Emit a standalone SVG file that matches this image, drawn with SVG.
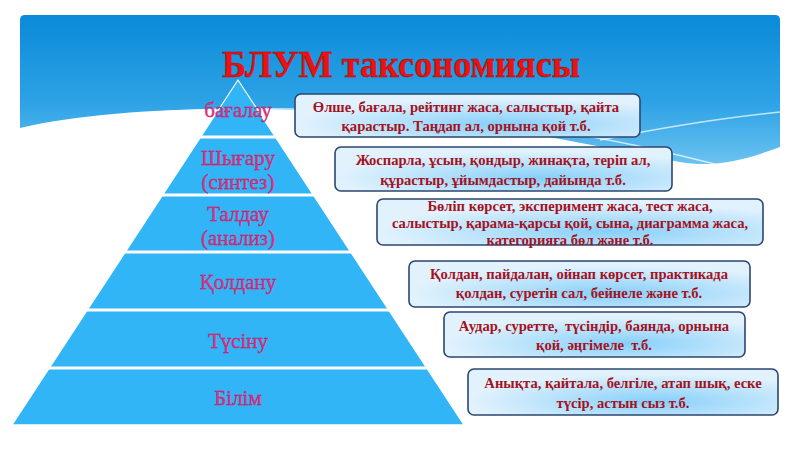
<svg xmlns="http://www.w3.org/2000/svg" width="800" height="450" viewBox="0 0 800 450">
<defs>
  <linearGradient id="bg" x1="0" y1="0" x2="0" y2="1">
    <stop offset="0" stop-color="#0a8ad8"/>
    <stop offset="0.6" stop-color="#2ea3e6"/>
    <stop offset="1" stop-color="#6cc2f0"/>
  </linearGradient>
  <radialGradient id="boxfill" cx="0.6" cy="0.7" r="0.6">
    <stop offset="0" stop-color="#86cff9"/>
    <stop offset="1" stop-color="#e2f2fd"/>
  </radialGradient>
  <style>
    .box { fill: url(#boxfill); stroke: #2b4670; stroke-width: 1.6; }
    .bt { font-family: "Liberation Serif", "Times New Roman", serif; font-weight: bold; font-size: 14.6px; fill: #a3121f; text-anchor: middle; }
    .pl { font-family: "Liberation Serif", "Times New Roman", serif; font-size: 21px; fill: #e8358c; stroke: #b8155e; stroke-width: 0.4; text-anchor: middle; }
    .sep { stroke: #ffffff; stroke-width: 3; }
    .streak { fill: none; stroke: #ffffff; stroke-opacity: 0.7; stroke-width: 1.5; }
  </style>
</defs>
<rect width="800" height="450" fill="#ffffff"/>
<g id="background">
  <path d="M20,20 Q20,15 25,15 H775 Q780,15 780,20 V147 C745,160 715,168 680,162 C600,148 480,118 330,111 C200,105 90,112 20,128 Z" fill="url(#bg)"/>
  <path class="streak" d="M600,140 C660,128 720,118 780,112"/>
  <path class="streak" d="M560,132 C620,140 680,155 730,168"/>
  <path class="streak" stroke-opacity="0.4" d="M40,125 C120,112 220,106 330,110"/>
</g>
<g id="title">
  <text x="401" y="77" font-family="'Liberation Serif', 'Times New Roman', serif" font-weight="bold" font-size="37" fill="#ee1111" stroke="#9a0a0a" stroke-width="0.5" text-anchor="middle" textLength="358" lengthAdjust="spacingAndGlyphs">БЛУМ таксономиясы</text>
</g>
<g id="pyramid">
  <polygon points="238,80 464,425 12,425" fill="#32b5f7" stroke="#ffffff" stroke-width="1.2"/>
  <line class="sep" x1="195" y1="137" x2="281" y2="137"/>
  <line class="sep" x1="157" y1="195" x2="319" y2="195"/>
  <line class="sep" x1="120" y1="252" x2="356" y2="252"/>
  <line class="sep" x1="82" y1="310" x2="394" y2="310"/>
  <line class="sep" x1="44" y1="368" x2="432" y2="368"/>
  <line class="sep" x1="8" y1="426" x2="468" y2="426"/>
</g>
<g id="level-bagalau"><text class="pl" x="238" y="117">бағалау</text></g>
<g id="level-shygaru"><text class="pl" x="238" y="165">Шығару</text><text class="pl" x="238" y="189">(синтез)</text></g>
<g id="level-taldau"><text class="pl" x="238" y="221">Талдау</text><text class="pl" x="238" y="245">(анализ)</text></g>
<g id="level-koldanu"><text class="pl" x="238" y="289">Қолдану</text></g>
<g id="level-tusinu"><text class="pl" x="238" y="348">Түсіну</text></g>
<g id="level-bilim"><text class="pl" x="238" y="405">Білім</text></g>
<g id="box-bagalau">
  <rect class="box" x="295" y="94" width="345" height="43" rx="6"/>
  <text class="bt" x="466" y="112">Өлше, бағала, рейтинг жаса, салыстыр, қайта</text>
  <text class="bt" x="466" y="131">қарастыр. Таңдап ал, орнына қой т.б.</text>
</g>
<g id="box-shygaru">
  <rect class="box" x="335" y="147" width="337" height="44" rx="6"/>
  <text class="bt" x="503" y="165">Жоспарла, ұсын, қондыр, жинақта, теріп ал,</text>
  <text class="bt" x="503" y="185">құрастыр, ұйымдастыр, дайында т.б.</text>
</g>
<g id="box-taldau">
  <rect class="box" x="377" y="199" width="386" height="46" rx="6"/>
  <text class="bt" x="570" y="211">Бөліп көрсет, эксперимент жаса, тест жаса,</text>
  <text class="bt" x="570" y="228">салыстыр, қарама-қарсы қой, сына, диаграмма жаса,</text>
  <text class="bt" x="570" y="245">категорияға бөл және т.б.</text>
</g>
<g id="box-koldanu">
  <rect class="box" x="409" y="261" width="341" height="46" rx="6"/>
  <text class="bt" x="579" y="279">Қолдан, пайдалан, ойнап көрсет, практикада</text>
  <text class="bt" x="579" y="298">қолдан, суретін сал, бейнеле және т.б.</text>
</g>
<g id="box-tusinu">
  <rect class="box" x="444" y="312" width="301" height="45" rx="6"/>
  <text class="bt" x="594" y="331" xml:space="preserve">Аудар, суретте,  түсіндір, баянда, орнына</text>
  <text class="bt" x="594" y="350" xml:space="preserve">қой, әңгімеле  т.б.</text>
</g>
<g id="box-bilim">
  <rect class="box" x="468" y="369" width="310" height="46" rx="6"/>
  <text class="bt" x="623" y="388">Анықта, қайтала, белгіле, атап шық, еске</text>
  <text class="bt" x="623" y="408">түсір, астын сыз т.б.</text>
</g>
<g id="connectors"/>
</svg>
